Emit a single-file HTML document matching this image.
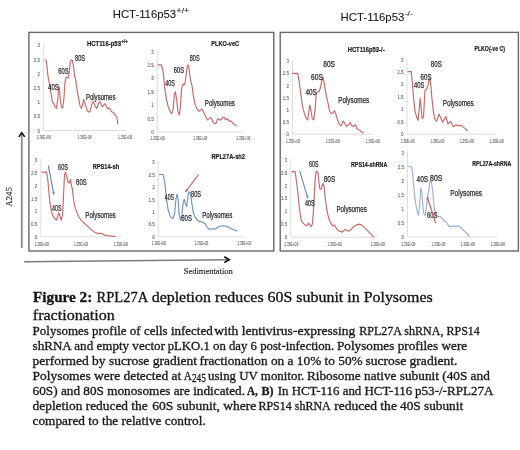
<!DOCTYPE html>
<html><head><meta charset="utf-8"><style>
html,body{margin:0;padding:0;background:#fff;}
body{width:520px;height:450px;overflow:hidden;position:relative;}
svg{position:absolute;left:0;top:0;filter:blur(0.35px);}
.tk{font-family:"Liberation Sans",sans-serif;font-size:4.5px;fill:#707070;stroke:#707070;stroke-width:0.12px;}
.tt{font-family:"Liberation Sans",sans-serif;font-size:7.2px;font-weight:bold;fill:#1a1a1a;stroke:#1a1a1a;stroke-width:0.2px;}
.lb{font-family:"Liberation Sans",sans-serif;font-size:8.3px;fill:#2a2a2a;stroke:#2a2a2a;stroke-width:0.25px;}
.hd{font-family:"Liberation Sans",sans-serif;font-size:11.4px;fill:#1a1a1a;stroke:#1a1a1a;stroke-width:0.1px;}
.ct{font-family:"Liberation Serif",serif;font-size:15px;fill:#111;stroke:#111;stroke-width:0.3px;}
.cb{font-family:"Liberation Serif",serif;font-size:11.7px;fill:#1a1a1a;stroke:#1a1a1a;stroke-width:0.3px;}
.ax{font-family:"Liberation Serif",serif;font-size:9px;fill:#222;stroke:#222;stroke-width:0.15px;}
</style></head><body>
<svg width="520" height="450" viewBox="0 0 520 450">
<text x="112.7" y="17.5" class="hd" textLength="63.5" lengthAdjust="spacingAndGlyphs">HCT-116p53</text>
<text x="176.6" y="13" class="hd" style="font-size:7px" textLength="12.5" lengthAdjust="spacingAndGlyphs">+/+</text>
<text x="340.6" y="21" class="hd" textLength="63.8" lengthAdjust="spacingAndGlyphs">HCT-116p53</text>
<text x="404.8" y="16.4" class="hd" style="font-size:7px" textLength="8" lengthAdjust="spacingAndGlyphs">-/-</text>
<rect x="28.9" y="32.4" width="244.9" height="218.6" fill="none" stroke="#686868" stroke-width="1.4"/>
<rect x="280.2" y="32.4" width="238.2" height="218.6" fill="none" stroke="#686868" stroke-width="1.4"/>
<line x1="21.8" y1="133" x2="21.8" y2="248" stroke="#8a8a8a" stroke-width="1.8"/>
<polyline points="18.9,136.9 21.8,132.6 24.7,136.9" fill="none" stroke="#111" stroke-width="1.6"/>
<text transform="translate(12.1,206.6) rotate(-90)" class="ax" style="font-size:8.4px" textLength="6" lengthAdjust="spacingAndGlyphs">A</text>
<text transform="translate(12.1,200.4) rotate(-90) scale(1,0.82)" class="ax" style="font-size:8.8px" textLength="13.2" lengthAdjust="spacingAndGlyphs">245</text>
<line x1="24.2" y1="261.8" x2="228.6" y2="259.8" stroke="#7a7a7a" stroke-width="1.6"/>
<polyline points="224.3,256.8 229.3,259.8 224.3,262.6" fill="none" stroke="#111" stroke-width="1.6"/>
<text x="183.8" y="273.8" class="ax" textLength="49" lengthAdjust="spacingAndGlyphs">Sedimentation</text>
<line x1="43.4" y1="44.3" x2="43.4" y2="130.5" stroke="#d9d9d9" stroke-width="0.9"/>
<line x1="43.4" y1="130.5" x2="125.8" y2="130.5" stroke="#d9d9d9" stroke-width="0.9"/>
<text x="39.9" y="47.4" class="tk" text-anchor="end">3</text>
<text x="39.9" y="61.6" class="tk" text-anchor="end">2.5</text>
<text x="39.9" y="75.8" class="tk" text-anchor="end">2</text>
<text x="39.9" y="90" class="tk" text-anchor="end">1.5</text>
<text x="39.9" y="104.2" class="tk" text-anchor="end">1</text>
<text x="39.9" y="118.4" class="tk" text-anchor="end">0.5</text>
<text x="39.9" y="132.6" class="tk" text-anchor="end">0</text>
<text x="36.7" y="139.3" class="tk" textLength="14" lengthAdjust="spacingAndGlyphs">1.35E+08</text>
<text x="77.6" y="139.3" class="tk" textLength="14" lengthAdjust="spacingAndGlyphs">1.35E+08</text>
<text x="118" y="139.3" class="tk" textLength="14" lengthAdjust="spacingAndGlyphs">1.35E+08</text>
<polyline points="44.5,60 46.2,60.3 47.1,67.4 48,76.3 49.8,86.1 51,93.2 52.4,102.1 53.9,103.9 55.1,106.6 56.4,108.3 57.8,99.5 58.7,86.2 59.6,89.6 60.4,101.2 61.7,107.4 62.8,108 64,97.7 64.9,83.4 65.8,78.1 66.7,77.2 68.1,78.1 69,74.6 70.2,62.1 71.1,60 72.4,60.3 73.4,65.7 74.7,76.3 75.9,80.8 77.3,90.6 78.8,99.4 80,105.7 81.4,108.3 82.7,104.8 83.6,99.4 84.4,101.2 85.9,106.6 87.2,110.6 88.9,112.2 90,111.7 91.1,107.2 92.2,102.8 93.3,101.7 94.4,104.4 95.6,107.2 96.7,108.3 97.8,105.6 98.9,102.2 100,101.7 101.1,104.4 102.2,106.7 103.3,106.1 104.4,103.9 105.6,104.4 106.7,107.2 107.8,108.9 108.9,107.8 110,108.9 111.1,111.1 112.2,112.2 113.3,112.2 114.4,113.9 115.6,115.6 116.7,117.2 117.2,119.4 117.8,124.4" fill="none" stroke="#cc6666" stroke-width="1.15" stroke-linejoin="round"/>
<text x="86.9" y="45.5" class="tt" textLength="34.1" lengthAdjust="spacingAndGlyphs">HCT116-p53</text>
<text x="121.4" y="43" class="tt" style="font-size:4.8px" textLength="6.4" lengthAdjust="spacingAndGlyphs">+/+</text>
<text x="75" y="60.7" class="lb" textLength="10" lengthAdjust="spacingAndGlyphs">80S</text>
<text x="58.2" y="74.4" class="lb" textLength="10.4" lengthAdjust="spacingAndGlyphs">60S</text>
<text x="48" y="89.5" class="lb" textLength="10.8" lengthAdjust="spacingAndGlyphs">40S</text>
<text x="85.9" y="100" class="lb" textLength="29.5" lengthAdjust="spacingAndGlyphs">Polysomes</text>
<line x1="157.3" y1="50.4" x2="157.3" y2="132.1" stroke="#d9d9d9" stroke-width="0.9"/>
<line x1="157.3" y1="132.1" x2="242.7" y2="132.1" stroke="#d9d9d9" stroke-width="0.9"/>
<text x="153.8" y="53.5" class="tk" text-anchor="end">3</text>
<text x="153.8" y="66.95" class="tk" text-anchor="end">2.5</text>
<text x="153.8" y="80.4" class="tk" text-anchor="end">2</text>
<text x="153.8" y="93.85" class="tk" text-anchor="end">1.5</text>
<text x="153.8" y="107.3" class="tk" text-anchor="end">1</text>
<text x="153.8" y="120.75" class="tk" text-anchor="end">0.5</text>
<text x="153.8" y="134.2" class="tk" text-anchor="end">0</text>
<text x="150.8" y="140.1" class="tk" textLength="14" lengthAdjust="spacingAndGlyphs">1.35E+08</text>
<text x="193.3" y="140.1" class="tk" textLength="14" lengthAdjust="spacingAndGlyphs">1.35E+08</text>
<text x="236.3" y="140.1" class="tk" textLength="14" lengthAdjust="spacingAndGlyphs">1.35E+08</text>
<polyline points="157.8,64.8 161.5,64.8 163.2,72.1 164.6,86.8 166.4,99.1 168.1,106.4 170,111.3 171.7,113.7 173.2,108.9 174.4,94.2 175.4,91.7 176.6,99.1 177.9,111.3 179.3,115 180.5,106.4 181.5,89.3 182.7,84.4 184.7,84.4 185.9,77 187.1,67.3 188.1,64.8 189.1,68.5 190.3,79.5 192,85.6 193.5,96.6 195,104 196.9,108.9 198.9,111.3 200.6,110.1 201.8,108.9 203.8,112.5 205.5,116.2 207.5,119.9 209.2,118.6 210.9,117.4 212.4,120.6 214.1,123.5 216,123.5 217.7,118.6 219.4,119.9 220.9,119.9 222.6,117.4 224.3,117.4 225.8,119.9 227.5,118.6 229.2,121.1 231.2,121.1 233.1,123.5 234.9,124.8 236.6,126" fill="none" stroke="#cc6666" stroke-width="1.15" stroke-linejoin="round"/>
<text x="211.3" y="46" class="tt" textLength="27.8" lengthAdjust="spacingAndGlyphs">PLKO-veC</text>
<text x="189.8" y="60.6" class="lb" textLength="9.8" lengthAdjust="spacingAndGlyphs">80S</text>
<text x="173.8" y="73.4" class="lb" textLength="10.2" lengthAdjust="spacingAndGlyphs">60S</text>
<text x="165.3" y="85.6" class="lb" textLength="9.6" lengthAdjust="spacingAndGlyphs">40S</text>
<text x="204.8" y="106.1" class="lb" textLength="30.1" lengthAdjust="spacingAndGlyphs">Polysomes</text>
<line x1="40.8" y1="159" x2="40.8" y2="236.8" stroke="#d9d9d9" stroke-width="0.9"/>
<line x1="40.8" y1="236.8" x2="121.2" y2="236.8" stroke="#d9d9d9" stroke-width="0.9"/>
<text x="37.3" y="162.1" class="tk" text-anchor="end">3</text>
<text x="37.3" y="174.9" class="tk" text-anchor="end">2.5</text>
<text x="37.3" y="187.7" class="tk" text-anchor="end">2</text>
<text x="37.3" y="200.5" class="tk" text-anchor="end">1.5</text>
<text x="37.3" y="213.3" class="tk" text-anchor="end">1</text>
<text x="37.3" y="226.1" class="tk" text-anchor="end">0.5</text>
<text x="37.3" y="238.9" class="tk" text-anchor="end">0</text>
<text x="34.8" y="245.6" class="tk" textLength="14" lengthAdjust="spacingAndGlyphs">1.35E+08</text>
<text x="74" y="245.6" class="tk" textLength="14" lengthAdjust="spacingAndGlyphs">1.35E+08</text>
<text x="113.7" y="245.6" class="tk" textLength="14" lengthAdjust="spacingAndGlyphs">1.35E+08</text>
<polyline points="41.6,172.1 46.5,172.1 47.8,179.5 49,193.1 50.2,204.2 51.5,211.6 52.7,215.3 54.7,218.5 56.4,220.2 57.6,216.5 58.9,212.8 60.1,216.5 61.3,220.2 62.6,214.1 63.8,189.4 64.5,174.6 65.5,172.1 66.8,177 68,182 69.2,183.2 70.5,179.5 71.5,185.7 72.4,189.4 73.7,200.5 74.9,206.7 76.6,211.6 78.6,216.5 81.1,220.2 83.6,222.7 87.3,225.9 91,229.4 94.2,231.9 97.1,233.3 100.8,233.3 104.5,235.1 108.2,235.8 112,236.3 115.7,236.3" fill="none" stroke="#cc6666" stroke-width="1.15" stroke-linejoin="round"/>
<text x="92.7" y="168.6" class="tt" textLength="26.4" lengthAdjust="spacingAndGlyphs">RPS14-sh</text>
<text x="58.1" y="170.1" class="lb" textLength="9.9" lengthAdjust="spacingAndGlyphs">60S</text>
<text x="76.1" y="185.4" class="lb" textLength="10.7" lengthAdjust="spacingAndGlyphs">80S</text>
<text x="52" y="210.7" class="lb" textLength="9.5" lengthAdjust="spacingAndGlyphs">40S</text>
<text x="85.3" y="218.2" class="lb" textLength="30.4" lengthAdjust="spacingAndGlyphs">Polysomes</text>
<line x1="48.3" y1="165.4" x2="53.9" y2="194.6" stroke="#6a8cbf" stroke-width="1.2"/>
<polygon points="53.9,194.6 51.99,192.29 54.82,191.74" fill="#6a8cbf"/>
<line x1="158.2" y1="161" x2="158.2" y2="236.8" stroke="#d9d9d9" stroke-width="0.9"/>
<line x1="158.2" y1="236.8" x2="244.5" y2="236.8" stroke="#d9d9d9" stroke-width="0.9"/>
<text x="154.7" y="164.1" class="tk" text-anchor="end">3</text>
<text x="154.7" y="176.57" class="tk" text-anchor="end">2.5</text>
<text x="154.7" y="189.03" class="tk" text-anchor="end">2</text>
<text x="154.7" y="201.5" class="tk" text-anchor="end">1.5</text>
<text x="154.7" y="213.97" class="tk" text-anchor="end">1</text>
<text x="154.7" y="226.43" class="tk" text-anchor="end">0.5</text>
<text x="154.7" y="238.9" class="tk" text-anchor="end">0</text>
<text x="151.7" y="245.4" class="tk" textLength="14" lengthAdjust="spacingAndGlyphs">1.35E+08</text>
<text x="194.4" y="245.4" class="tk" textLength="14" lengthAdjust="spacingAndGlyphs">1.35E+08</text>
<text x="237.2" y="245.4" class="tk" textLength="14" lengthAdjust="spacingAndGlyphs">1.35E+08</text>
<polyline points="159.1,174.5 163.3,174.5 164.8,183.1 166.5,199.2 168.2,210.3 170.2,216.4 172.7,218.9 174.6,214 175.9,199.2 177.1,194.2 178.1,199.2 179.1,214 180.5,220.1 181.8,216.4 183,204.1 184.2,199.2 185.5,204.1 186.7,206.6 187.9,196.7 188.9,191.8 190.4,193 191.6,201.6 193.1,211.5 194.8,216.4 197.3,220.1 199.8,221.4 202.2,221.9 205.2,223.8 207.2,227.5 209.6,229.3 212.6,228.8 215.8,228.8 219.5,226.3 223.2,225.8 226.9,226.3 230.6,228.3 234.3,230 237.3,231.2" fill="none" stroke="#6f93c4" stroke-width="1.15" stroke-linejoin="round"/>
<text x="211.5" y="158.8" class="tt" textLength="33.4" lengthAdjust="spacingAndGlyphs">RPL27A-sh2</text>
<text x="164.8" y="200.1" class="lb" textLength="9.1" lengthAdjust="spacingAndGlyphs">40S</text>
<text x="191.1" y="196.6" class="lb" textLength="9.9" lengthAdjust="spacingAndGlyphs">80S</text>
<text x="181.3" y="221.3" class="lb" textLength="10.6" lengthAdjust="spacingAndGlyphs">60S</text>
<text x="202.2" y="218.1" class="lb" textLength="30.1" lengthAdjust="spacingAndGlyphs">Polysomes</text>
<line x1="198.5" y1="174.5" x2="185.5" y2="191.8" stroke="#d0605a" stroke-width="1.2"/>
<polygon points="185.5,191.8 185.93,188.83 188.23,190.56" fill="#d0605a"/>
<line x1="292.5" y1="60.2" x2="292.5" y2="134.2" stroke="#d9d9d9" stroke-width="0.9"/>
<line x1="292.5" y1="134.2" x2="372.3" y2="134.2" stroke="#d9d9d9" stroke-width="0.9"/>
<text x="289" y="63.3" class="tk" text-anchor="end">3</text>
<text x="289" y="75.47" class="tk" text-anchor="end">2.5</text>
<text x="289" y="87.63" class="tk" text-anchor="end">2</text>
<text x="289" y="99.8" class="tk" text-anchor="end">1.5</text>
<text x="289" y="111.97" class="tk" text-anchor="end">1</text>
<text x="289" y="124.13" class="tk" text-anchor="end">0.5</text>
<text x="289" y="136.3" class="tk" text-anchor="end">0</text>
<text x="286" y="142.6" class="tk" textLength="14" lengthAdjust="spacingAndGlyphs">1.35E+08</text>
<text x="325.9" y="142.6" class="tk" textLength="14" lengthAdjust="spacingAndGlyphs">1.35E+08</text>
<text x="365.8" y="142.6" class="tk" textLength="14" lengthAdjust="spacingAndGlyphs">1.35E+08</text>
<polyline points="292.2,73.3 297.6,73.3 299.1,80.7 300.8,94.1 302.5,106.3 304.4,113.7 306.4,118.6 307.6,119.8 308.9,111.2 309.8,105.1 311.1,111.2 312.3,118.6 313.7,119.8 315,111.2 316.2,94.1 317.4,91.7 319.1,91.7 320.3,88 321.6,81.9 322.8,77 324,81.9 325.2,89.2 326.5,96.6 328.2,103.9 329.6,111.2 331.3,113.7 333.3,112.5 334.5,110.8 335.7,113.7 337.5,119.8 339.4,124.7 341.1,125.9 343.1,121 344.8,123.5 346.5,126.4 348.5,124.7 350.2,122.2 351.6,125.4 353.3,126.4 355.3,124.7 357,128.4 359.5,130.3 361.9,132 363.6,133.2" fill="none" stroke="#cc6666" stroke-width="1.15" stroke-linejoin="round"/>
<text x="347.7" y="52.1" class="tt" textLength="36.9" lengthAdjust="spacingAndGlyphs">HCT116p53-/-</text>
<text x="323.2" y="66.6" class="lb" textLength="11.8" lengthAdjust="spacingAndGlyphs">80S</text>
<text x="311" y="80.1" class="lb" textLength="12" lengthAdjust="spacingAndGlyphs">60S</text>
<text x="305.5" y="95.4" class="lb" textLength="11.3" lengthAdjust="spacingAndGlyphs">40S</text>
<text x="338.2" y="103.1" class="lb" textLength="31" lengthAdjust="spacingAndGlyphs">Polysomes</text>
<line x1="407" y1="58.4" x2="407" y2="134.3" stroke="#d9d9d9" stroke-width="0.9"/>
<line x1="407" y1="134.3" x2="496.8" y2="134.3" stroke="#d9d9d9" stroke-width="0.9"/>
<text x="403.5" y="61.5" class="tk" text-anchor="end">3</text>
<text x="403.5" y="73.98" class="tk" text-anchor="end">2.5</text>
<text x="403.5" y="86.47" class="tk" text-anchor="end">2</text>
<text x="403.5" y="98.95" class="tk" text-anchor="end">1.5</text>
<text x="403.5" y="111.43" class="tk" text-anchor="end">1</text>
<text x="403.5" y="123.92" class="tk" text-anchor="end">0.5</text>
<text x="403.5" y="136.4" class="tk" text-anchor="end">0</text>
<text x="400.5" y="142.6" class="tk" textLength="14" lengthAdjust="spacingAndGlyphs">1.35E+08</text>
<text x="430.2" y="142.6" class="tk" textLength="14" lengthAdjust="spacingAndGlyphs">1.35E+08</text>
<text x="459.9" y="142.6" class="tk" textLength="14" lengthAdjust="spacingAndGlyphs">1.35E+08</text>
<text x="489.8" y="142.6" class="tk" textLength="14" lengthAdjust="spacingAndGlyphs">1.35E+08</text>
<polyline points="407.7,71.6 411.2,71.6 412.4,83.1 413.3,95.6 415.1,111.6 416.9,117.8 418.1,120.4 419.2,109.8 420.1,98.2 421,106.2 422.2,118.7 423.5,116.9 424.2,104.4 424.9,90.2 426.7,89.3 428.1,84.9 429,79.6 429.9,78.7 430.8,84.9 432,99.1 433.4,111.6 434.7,118.7 436.4,121.3 439.1,114.2 442.7,122.2 445.9,116.5 448,124 450.7,121.3 453.3,126.7 456,124.9 458.7,125.8 461.3,125.4 464.9,128.4 467.6,131.1" fill="none" stroke="#cc6666" stroke-width="1.15" stroke-linejoin="round"/>
<text x="474.5" y="50.7" class="tt" textLength="30.5" lengthAdjust="spacingAndGlyphs">PLKO(-ve C)</text>
<text x="430.7" y="67.1" class="lb" textLength="11.1" lengthAdjust="spacingAndGlyphs">80S</text>
<text x="420.6" y="80.3" class="lb" textLength="11" lengthAdjust="spacingAndGlyphs">60S</text>
<text x="414.1" y="88.3" class="lb" textLength="10.2" lengthAdjust="spacingAndGlyphs">40S</text>
<text x="442.7" y="105.8" class="lb" textLength="30.9" lengthAdjust="spacingAndGlyphs">Polysomes</text>
<line x1="290.8" y1="158.5" x2="290.8" y2="237.2" stroke="#d9d9d9" stroke-width="0.9"/>
<line x1="290.8" y1="237.2" x2="377.4" y2="237.2" stroke="#d9d9d9" stroke-width="0.9"/>
<text x="287.3" y="161.6" class="tk" text-anchor="end">3</text>
<text x="287.3" y="174.55" class="tk" text-anchor="end">2.5</text>
<text x="287.3" y="187.5" class="tk" text-anchor="end">2</text>
<text x="287.3" y="200.45" class="tk" text-anchor="end">1.5</text>
<text x="287.3" y="213.4" class="tk" text-anchor="end">1</text>
<text x="287.3" y="226.35" class="tk" text-anchor="end">0.5</text>
<text x="287.3" y="239.3" class="tk" text-anchor="end">0</text>
<text x="284.2" y="245.8" class="tk" textLength="14" lengthAdjust="spacingAndGlyphs">1.35E+08</text>
<text x="327.6" y="245.8" class="tk" textLength="14" lengthAdjust="spacingAndGlyphs">1.35E+08</text>
<text x="370.8" y="245.8" class="tk" textLength="14" lengthAdjust="spacingAndGlyphs">1.35E+08</text>
<polyline points="291.6,171.6 295.1,171.6 296,177.8 297.8,192 299,204.5 300.1,213.4 301.3,220.5 303.1,223.2 304.9,224.9 306.7,225.8 308.5,223.2 309.7,224.9 311.1,226.7 312.4,224.1 313.4,211.6 314.3,195.6 315,181.4 315.9,172.5 316.8,171 317.9,172.5 318.8,181.4 319.7,188.5 320.9,189.4 322.2,185.8 323.2,183.1 324.1,186.7 325,195.6 326.3,206.3 327.5,213.4 328.9,218.7 330.7,223.2 332.5,225.8 334.3,224.9 336,227.6 337.8,230.3 339.6,231.2 342.3,232.1 345,229.4 346.7,230.3 348.5,231.2 351.2,229.4 353.8,226.7 356.5,224.9 359.2,224.1 361.3,224.9 363.6,226.7 366.3,229.4 369,232.1 371.6,234.7 373.8,237.4" fill="none" stroke="#cc6666" stroke-width="1.15" stroke-linejoin="round"/>
<text x="351" y="166.9" class="tt" textLength="36.3" lengthAdjust="spacingAndGlyphs">RPS14-shRNA</text>
<text x="309" y="166.5" class="lb" textLength="9.5" lengthAdjust="spacingAndGlyphs">60S</text>
<text x="323.8" y="182.3" class="lb" textLength="11.4" lengthAdjust="spacingAndGlyphs">80S</text>
<text x="304.9" y="206.1" class="lb" textLength="9.8" lengthAdjust="spacingAndGlyphs">40S</text>
<text x="336.4" y="211.9" class="lb" textLength="30.4" lengthAdjust="spacingAndGlyphs">Polysomes</text>
<line x1="299.6" y1="170.7" x2="307.9" y2="198.3" stroke="#6a8cbf" stroke-width="1.2"/>
<polygon points="307.9,198.3 305.76,196.19 308.52,195.36" fill="#6a8cbf"/>
<line x1="407.5" y1="151.8" x2="407.5" y2="237" stroke="#d9d9d9" stroke-width="0.9"/>
<line x1="407.5" y1="237" x2="497.8" y2="237" stroke="#d9d9d9" stroke-width="0.9"/>
<text x="404" y="154.9" class="tk" text-anchor="end">3</text>
<text x="404" y="168.93" class="tk" text-anchor="end">2.5</text>
<text x="404" y="182.97" class="tk" text-anchor="end">2</text>
<text x="404" y="197" class="tk" text-anchor="end">1.5</text>
<text x="404" y="211.03" class="tk" text-anchor="end">1</text>
<text x="404" y="225.07" class="tk" text-anchor="end">0.5</text>
<text x="404" y="239.1" class="tk" text-anchor="end">0</text>
<text x="401.4" y="245.7" class="tk" textLength="14" lengthAdjust="spacingAndGlyphs">1.35E+08</text>
<text x="431.4" y="245.7" class="tk" textLength="14" lengthAdjust="spacingAndGlyphs">1.35E+08</text>
<text x="460.8" y="245.7" class="tk" textLength="14" lengthAdjust="spacingAndGlyphs">1.35E+08</text>
<text x="490.7" y="245.7" class="tk" textLength="14" lengthAdjust="spacingAndGlyphs">1.35E+08</text>
<polyline points="407.9,166.7 411.6,166.7 412.8,174.6 414,189.4 415.3,201.7 417.3,211.6 418.5,215.3 419.7,204.2 420.7,188.1 421.9,191.9 422.7,204.2 423.9,214.1 425.2,215.3 426.4,206.7 427.6,196.8 428.9,189.4 430.1,180.7 431.3,182 432.6,189.4 433.8,204.2 435,211.6 436.3,215.3 438,216.5 440,216.5 442,218.5 443.7,220.2 446.1,222 448.6,225.9 451.1,226.9 453.6,225.9 456,226.4 458.5,225.9 461,227.7 463.4,230.1 465.9,232.6 468.4,235.1 469.6,236.8" fill="none" stroke="#9cb0d2" stroke-width="1.15" stroke-linejoin="round"/>
<text x="472.3" y="165.6" class="tt" textLength="38.9" lengthAdjust="spacingAndGlyphs">RPL27A-shRNA</text>
<text x="416.5" y="182.4" class="lb" textLength="11.6" lengthAdjust="spacingAndGlyphs">40S</text>
<text x="430.1" y="181.2" class="lb" textLength="12.3" lengthAdjust="spacingAndGlyphs">80S</text>
<text x="427.1" y="218.2" class="lb" textLength="10.4" lengthAdjust="spacingAndGlyphs">60S</text>
<text x="450.3" y="196" class="lb" textLength="31.7" lengthAdjust="spacingAndGlyphs">Polysomes</text>
<line x1="435.5" y1="222.7" x2="427.1" y2="196.8" stroke="#d0605a" stroke-width="1.2"/>
<polygon points="427.1,196.8 429.28,198.86 426.54,199.75" fill="#d0605a"/>
<text x="33" y="302.1" class="ct" font-weight="bold" textLength="59.3" lengthAdjust="spacingAndGlyphs">Figure 2:</text>
<text x="96.5" y="302.1" class="ct" textLength="51.7" lengthAdjust="spacingAndGlyphs">RPL27A</text>
<text x="151.7" y="302.1" class="ct" textLength="281" lengthAdjust="spacingAndGlyphs">depletion reduces 60S subunit in Polysomes</text>
<text x="32.8" y="320.1" class="ct" textLength="82" lengthAdjust="spacingAndGlyphs">fractionation</text>
<text x="32.6" y="334.7" class="cb" textLength="180.1" lengthAdjust="spacingAndGlyphs">Polysomes profile of cells infected</text>
<text x="214.2" y="334.7" class="cb" textLength="141.2" lengthAdjust="spacingAndGlyphs">with lentivirus-expressing</text>
<text x="359.2" y="334.7" class="cb" textLength="120.7" lengthAdjust="spacingAndGlyphs">RPL27A shRNA, RPS14</text>
<text x="32.6" y="349.8" class="cb" textLength="132.4" lengthAdjust="spacingAndGlyphs">shRNA and empty vector</text>
<text x="167.7" y="349.8" class="cb" textLength="166.5" lengthAdjust="spacingAndGlyphs">pLKO.1 on day 6 post-infection.</text>
<text x="336.9" y="349.8" class="cb" textLength="130.3" lengthAdjust="spacingAndGlyphs">Polysomes profiles were</text>
<text x="32.6" y="364.9" class="cb" textLength="164.3" lengthAdjust="spacingAndGlyphs">performed by sucrose gradient</text>
<text x="199.6" y="364.9" class="cb" textLength="163.1" lengthAdjust="spacingAndGlyphs">fractionation on a 10% to 50%</text>
<text x="365.5" y="364.9" class="cb" textLength="91.9" lengthAdjust="spacingAndGlyphs">sucrose gradient.</text>
<text x="32.6" y="380.1" class="cb" textLength="148.6" lengthAdjust="spacingAndGlyphs">Polysomes were detected at</text>
<text x="183.8" y="380.1" class="cb" textLength="8.1" lengthAdjust="spacingAndGlyphs">A</text>
<text x="191.9" y="382.3" class="cb" font-size="8" textLength="13.9" lengthAdjust="spacingAndGlyphs">245</text>
<text x="208.1" y="380.1" class="cb" textLength="96.1" lengthAdjust="spacingAndGlyphs">using UV monitor.</text>
<text x="306.9" y="380.1" class="cb" textLength="182.9" lengthAdjust="spacingAndGlyphs">Ribosome native subunit (40S and</text>
<text x="32.6" y="395.2" class="cb" textLength="212.4" lengthAdjust="spacingAndGlyphs">60S) and 80S monosomes are indicated.</text>
<text x="246.9" y="395.2" class="cb" font-weight="bold" textLength="10.8" lengthAdjust="spacingAndGlyphs">A,</text>
<text x="261.5" y="395.2" class="cb" font-weight="bold" textLength="12" lengthAdjust="spacingAndGlyphs">B)</text>
<text x="277.7" y="395.2" class="cb" textLength="134.6" lengthAdjust="spacingAndGlyphs">In HCT-116 and HCT-116</text>
<text x="415" y="395.2" class="cb" textLength="78.5" lengthAdjust="spacingAndGlyphs">p53-/-RPL27A</text>
<text x="32.6" y="410.3" class="cb" textLength="115.1" lengthAdjust="spacingAndGlyphs">depletion reduced the</text>
<text x="152.3" y="410.3" class="cb" textLength="103.9" lengthAdjust="spacingAndGlyphs">60S subunit, where</text>
<text x="258.4" y="410.3" class="cb" textLength="72.4" lengthAdjust="spacingAndGlyphs">RPS14 shRNA</text>
<text x="334.2" y="410.3" class="cb" textLength="62.7" lengthAdjust="spacingAndGlyphs">reduced the</text>
<text x="400" y="410.3" class="cb" textLength="63.1" lengthAdjust="spacingAndGlyphs">40S subunit</text>
<text x="32.5" y="425.4" class="cb" textLength="173.3" lengthAdjust="spacingAndGlyphs">compared to the relative control.</text>
</svg>
</body></html>
